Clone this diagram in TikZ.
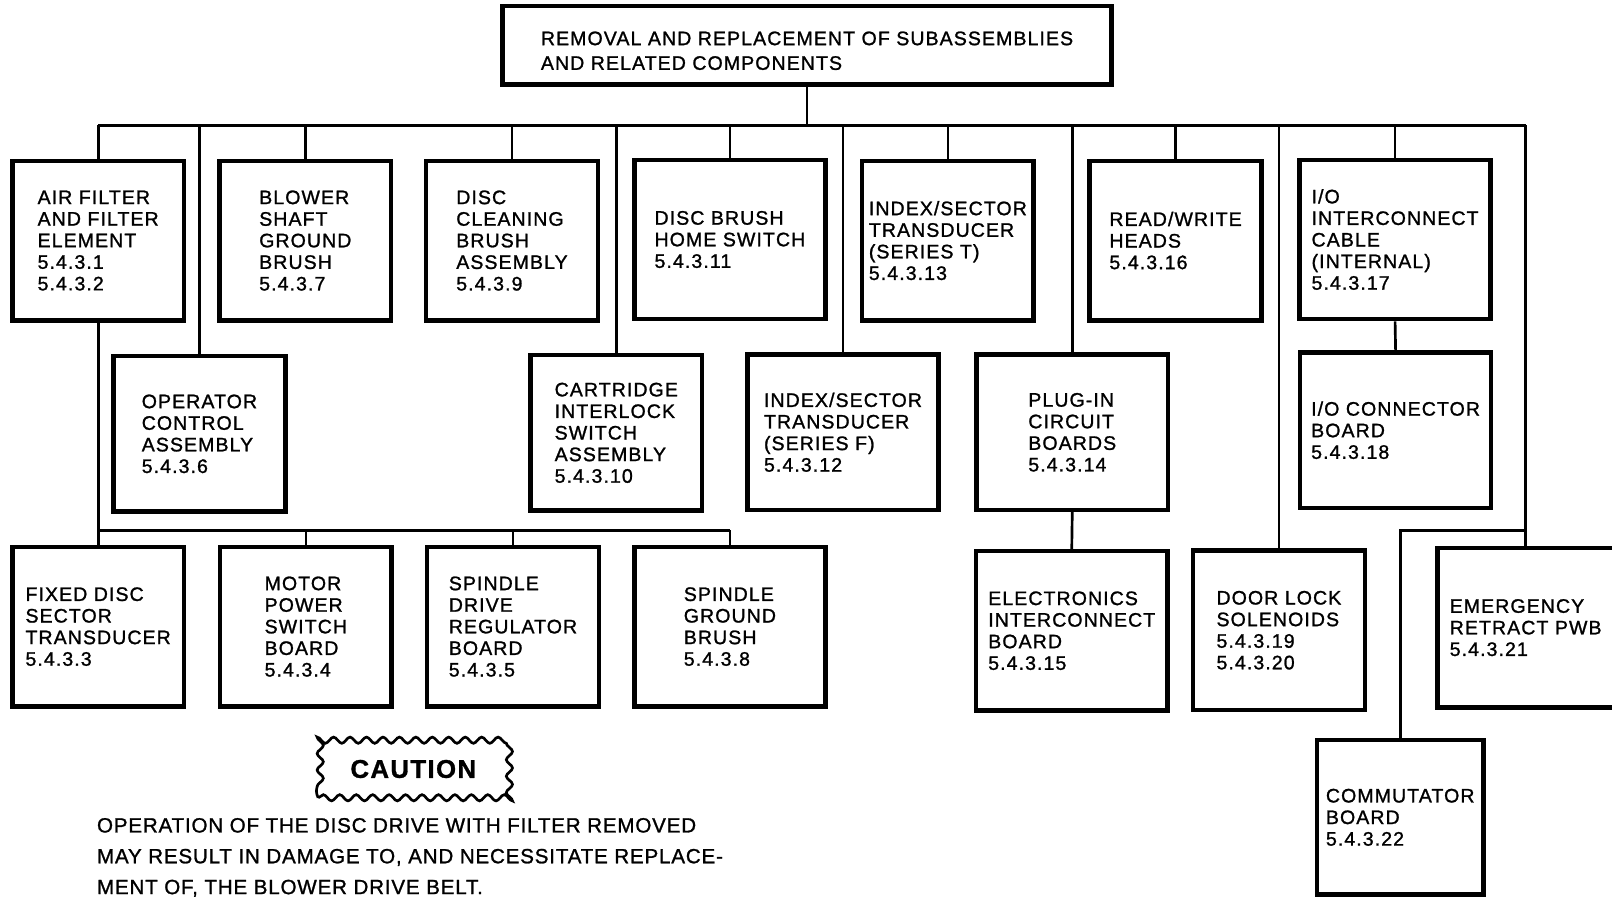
\documentclass[tikz,border=0pt]{standalone}
\usepackage{fontspec}
\setmainfont{Liberation Sans}[LetterSpace=5.5, FakeBold=1.2]
\newfontfamily\notefont{Liberation Sans}[LetterSpace=4, FakeBold=1.2]
\usetikzlibrary{decorations.pathmorphing}

\begin{document}
\begin{tikzpicture}[x=0.5pt, y=-0.5pt,
  box/.style={draw, line width=2.2pt, align=left, inner sep=0pt,
    minimum width=83.5pt, minimum height=77.5pt,
    font=\fontsize{9.5}{10.5}\selectfont},
  wide/.style={minimum width=93pt},
  short/.style={minimum height=75.5pt},
  link/.style={line width=1.3pt}]
  \useasboundingbox (0,0) rectangle (1568,872);

  \node[box, minimum width=296pt, minimum height=38pt, text height=24pt, font=\fontsize{9.5}{12}\selectfont] (top) at (785,44)
    {REMOVAL AND REPLACEMENT OF SUBASSEMBLIES\\AND RELATED COMPONENTS};

  % first row
  \node[box] (air) at (95.5,234) {AIR FILTER\\AND FILTER\\ELEMENT\\5.4.3.1\\5.4.3.2};
  \node[box] (blower) at (297,234) {BLOWER\\SHAFT\\GROUND\\BRUSH\\5.4.3.7};
  \node[box] (clean) at (498,234) {DISC\\CLEANING\\BRUSH\\ASSEMBLY\\5.4.3.9};
  \node[box, wide] (home) at (710,233) {DISC BRUSH\\HOME SWITCH\\5.4.3.11};
  \node[box] (idxT) at (922,234) {INDEX/SECTOR\\TRANSDUCER\\(SERIES T)\\5.4.3.13};
  \node[box] (heads) at (1143.5,234) {READ/WRITE\\HEADS\\5.4.3.16};
  \node[box, wide] (cable) at (1357,233) {I/O\\INTERCONNECT\\CABLE\\(INTERNAL)\\5.4.3.17};

  % second row
  \node[box, short] (opctl) at (194,422) {OPERATOR\\CONTROL\\ASSEMBLY\\5.4.3.6};
  \node[box, short] (cart) at (599.5,421) {CARTRIDGE\\INTERLOCK\\SWITCH\\ASSEMBLY\\5.4.3.10};
  \node[box, wide, short] (idxF) at (820,420.5) {INDEX/SECTOR\\TRANSDUCER\\(SERIES F)\\5.4.3.12};
  \node[box, wide, short] (plug) at (1043,420.5) {PLUG-IN\\CIRCUIT\\BOARDS\\5.4.3.14};
  \node[box, wide, short] (iocon) at (1357.5,418.5) {I/O CONNECTOR\\BOARD\\5.4.3.18};

  % third row
  \node[box] (fixed) at (95.5,609.5) {FIXED DISC\\SECTOR\\TRANSDUCER\\5.4.3.3};
  \node[box] (motor) at (297.5,609.5) {MOTOR\\POWER\\SWITCH\\BOARD\\5.4.3.4};
  \node[box] (spdrv) at (499,609.5) {SPINDLE\\DRIVE\\REGULATOR\\BOARD\\5.4.3.5};
  \node[box, wide] (spgnd) at (710,609.5) {SPINDLE\\GROUND\\BRUSH\\5.4.3.8};
  \node[box, wide] (elec) at (1042.5,613.5) {ELECTRONICS\\INTERCONNECT\\BOARD\\5.4.3.15};
  \node[box] (door) at (1244,613) {DOOR LOCK\\SOLENOIDS\\5.4.3.19\\5.4.3.20};
  \node[box, minimum width=86pt] (emerg) at (1484,610.5) {EMERGENCY\\RETRACT PWB\\5.4.3.21};
  \node[box, minimum width=81pt, minimum height=75pt] (comm) at (1362,795) {COMMUTATOR\\BOARD\\5.4.3.22};

  % warning
  \node[draw, line width=1.3pt, decorate, decoration={snake, amplitude=1.5pt, segment length=8pt},
    minimum width=92.5pt, minimum height=28pt, font=\bfseries\fontsize{12.5}{15}\selectfont] (caution) at (402,748) {CAUTION};
  \node[anchor=west, align=left, inner sep=0pt, font=\notefont\fontsize{10}{15}\selectfont] (note) at (94,834)
    {OPERATION OF THE DISC DRIVE WITH FILTER REMOVED\\MAY RESULT IN DAMAGE TO, AND NECESSITATE REPLACE-\\MENT OF, THE BLOWER DRIVE BELT.};

  % connectors
  \coordinate (bus) at (786,122);
  \coordinate (lowbus) at (92,516);
  \draw[link] (top.south) -- (top.south |- bus);
  \draw[link] (air.north |- bus) -- (emerg.north |- bus);
  \foreach \n in {air,blower,clean,home,idxT,heads,cable,opctl,cart,idxF,plug,door,emerg}
    \draw[link] (\n.north |- bus) -- (\n.north);
  \draw[link] (cable.south) -- (iocon.north);
  \draw[link] (plug.south) -- (elec.north);
  \draw[link] (air.south) -- (fixed.north);
  \draw[link] (fixed.north |- lowbus) -- (spgnd.north |- lowbus);
  \foreach \n in {motor,spdrv,spgnd}
    \draw[link] (\n.north |- lowbus) -- (\n.north);
  \draw[link] (emerg.north |- lowbus) -| (comm.north);
\end{tikzpicture}
\end{document}
